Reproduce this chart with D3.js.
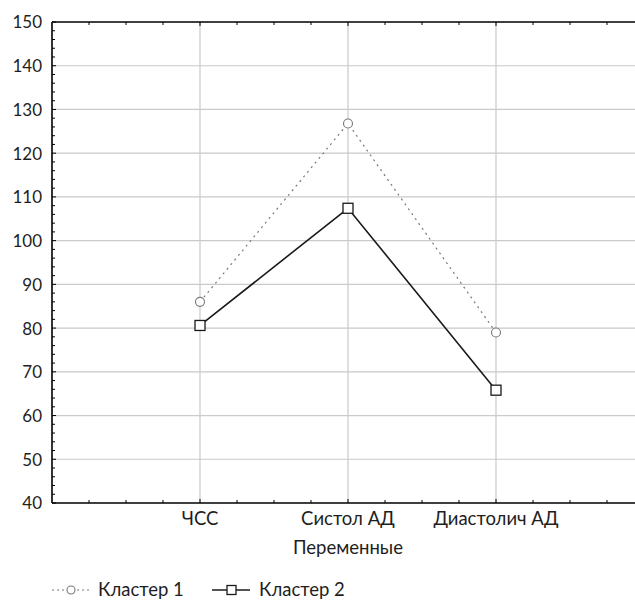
<!DOCTYPE html>
<html><head><meta charset="utf-8">
<script src="https://cdn.jsdelivr.net/npm/d3@7"></script>
<style>body{margin:0;background:#fff}svg text{font-family:Lato,"Open Sans",sans-serif;fill:#1e1e1e}</style>
</head><body><svg id="c" width="635" height="600"></svg>
<script>
const categories = ["ЧСС", "Систол АД", "Диастолич АД"];
const cluster1 = [86.0, 126.8, 79.0];
const cluster2 = [80.6, 107.4, 65.8];
const seriesNames = ["Кластер 1", "Кластер 2"];
const yTicks = [40, 50, 60, 70, 80, 90, 100, 110, 120, 130, 140, 150];
const xTitle = "Переменные";

const svg = d3.select("#c");
const L = 52, T = 22, B = 503, R = 644;
const x = d3.scaleLinear().domain([0, 4]).range([L, R]);
const y = d3.scaleLinear().domain([40, 150]).range([B, T]);
const grid = "#c9c9ce";

// gridlines
svg.append("g").selectAll("line").data(yTicks.slice(1, -1)).join("line")
  .attr("x1", L).attr("x2", R).attr("y1", d => y(d)).attr("y2", d => y(d))
  .attr("stroke", grid).attr("stroke-width", 1.2);
svg.append("g").selectAll("line").data([1, 2, 3]).join("line")
  .attr("x1", d => x(d)).attr("x2", d => x(d)).attr("y1", T).attr("y2", B)
  .attr("stroke", grid).attr("stroke-width", 1.2);

// axes
const yAxis = d3.axisLeft(y).tickValues(yTicks).tickSize(0).tickPadding(10);
const gy = svg.append("g").attr("transform", `translate(${L},0)`).call(yAxis);
gy.select(".domain").remove();
gy.selectAll("text").style("font-size", "17px").attr("dy", "0.35em");

// minor ticks y (inward)
const yMinor = d3.range(40, 150.01, 2);
svg.append("g").selectAll("line").data(yMinor).join("line")
  .attr("x1", L).attr("x2", d => L + (d % 10 === 0 ? 4 : 3)).attr("y1", d => y(d)).attr("y2", d => y(d))
  .attr("stroke", "#000").attr("stroke-width", 1);
// minor ticks x, top and bottom (inward)
const xMinor = d3.range(0.25, 4, 0.25);
svg.append("g").selectAll("line").data(xMinor).join("line")
  .attr("x1", d => x(d)).attr("x2", d => x(d)).attr("y1", B).attr("y2", d => B - (Number.isInteger(d) ? 4 : 3))
  .attr("stroke", "#000").attr("stroke-width", 1);
svg.append("g").selectAll("line").data(xMinor).join("line")
  .attr("x1", d => x(d)).attr("x2", d => x(d)).attr("y1", T).attr("y2", d => T + (Number.isInteger(d) ? 4 : 3))
  .attr("stroke", "#000").attr("stroke-width", 1);

// frame lines
svg.append("line").attr("x1", L).attr("x2", L).attr("y1", T).attr("y2", B).attr("stroke", "#000").attr("stroke-width", 1.6);
svg.append("line").attr("x1", L).attr("x2", R).attr("y1", B).attr("y2", B).attr("stroke", "#000").attr("stroke-width", 1.6);
svg.append("line").attr("x1", L).attr("x2", R).attr("y1", T).attr("y2", T).attr("stroke", "#000").attr("stroke-width", 1.6);

// x labels
svg.append("g").selectAll("text").data(categories).join("text")
  .attr("x", (d, i) => x(i + 1)).attr("y", 525).attr("text-anchor", "middle")
  .style("font-size", "18.5px").text(d => d);
svg.append("text").attr("x", x(2)).attr("y", 553.5).attr("text-anchor", "middle")
  .style("font-size", "18.5px").text(xTitle);

// series
const line = d3.line().x((d, i) => x(i + 1)).y(d => y(d));
svg.append("path").datum(cluster1).attr("d", line).attr("fill", "none")
  .attr("stroke", "#777").attr("stroke-width", 1.2).attr("stroke-dasharray", "2,4");
svg.append("path").datum(cluster2).attr("d", line).attr("fill", "none")
  .attr("stroke", "#1a1a1a").attr("stroke-width", 1.6);
svg.append("g").selectAll("circle").data(cluster1).join("circle")
  .attr("cx", (d, i) => x(i + 1)).attr("cy", d => y(d)).attr("r", 4.5)
  .attr("fill", "#fff").attr("stroke", "#777").attr("stroke-width", 1.1);
svg.append("g").selectAll("rect").data(cluster2).join("rect")
  .attr("x", (d, i) => x(i + 1) - 5).attr("y", d => y(d) - 5).attr("width", 10).attr("height", 10)
  .attr("fill", "#fff").attr("stroke", "#1a1a1a").attr("stroke-width", 1.3);

// legend
const ly = 590;
svg.append("line").attr("x1", 52).attr("x2", 91).attr("y1", ly).attr("y2", ly)
  .attr("stroke", "#777").attr("stroke-width", 1.2).attr("stroke-dasharray", "2,3");
svg.append("circle").attr("cx", 71).attr("cy", ly).attr("r", 4).attr("fill", "#fff").attr("stroke", "#777").attr("stroke-width", 1.1);
svg.append("text").attr("x", 98).attr("y", 596).style("font-size", "18.5px").text(seriesNames[0]);
svg.append("line").attr("x1", 212).attr("x2", 250).attr("y1", ly).attr("y2", ly)
  .attr("stroke", "#1a1a1a").attr("stroke-width", 1.5);
svg.append("rect").attr("x", 227).attr("y", ly - 4.5).attr("width", 9).attr("height", 9)
  .attr("fill", "#fff").attr("stroke", "#1a1a1a").attr("stroke-width", 1.3);
svg.append("text").attr("x", 259).attr("y", 596).style("font-size", "18.5px").text(seriesNames[1]);
</script></body></html>
